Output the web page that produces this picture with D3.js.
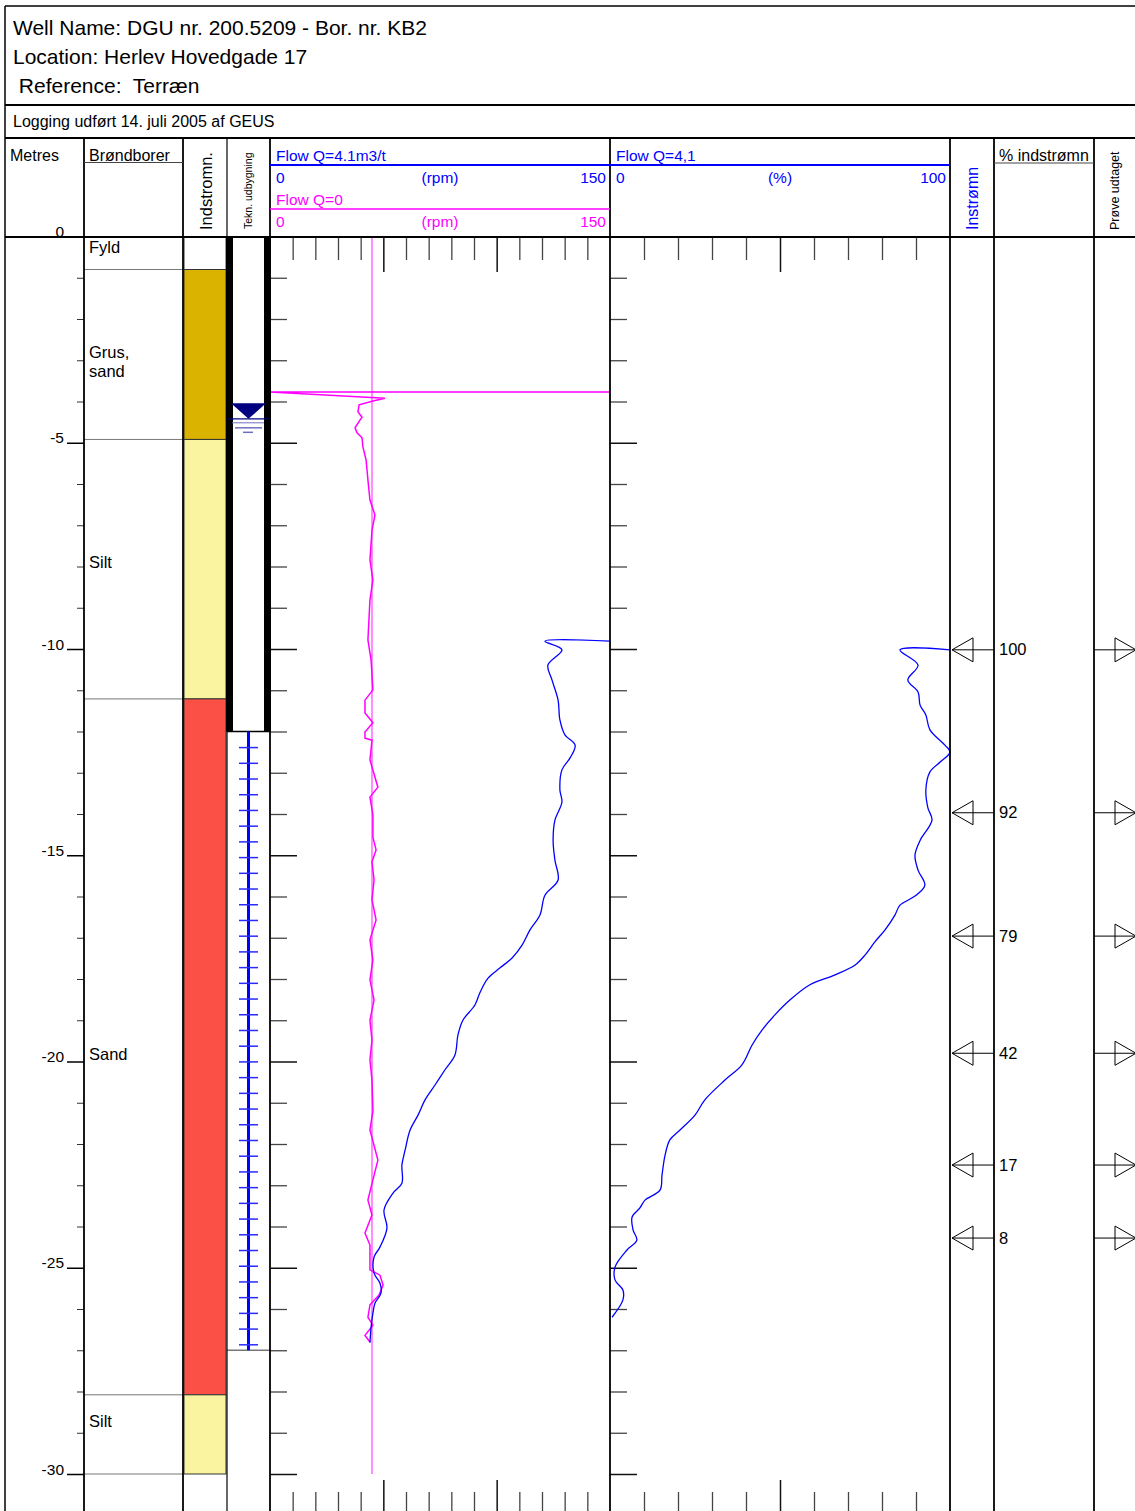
<!DOCTYPE html>
<html>
<head>
<meta charset="utf-8">
<script src="https://cdn.jsdelivr.net/npm/d3@7"></script>
<style>
  body { margin: 0; background: #fff; }
  svg { display: block; font-family: "Liberation Sans", Arial, sans-serif; }
</style>
</head>
<body>
<script>

const titleLines = ['Well Name: DGU nr. 200.5209 - Bor. nr. KB2', 'Location: Herlev Hovedgade 17', ' Reference:  Terræn'];
const loggingNote = 'Logging udført 14. juli 2005 af GEUS';

// lithology (depth in metres below terrain)
const lithNames = ['Fyld', 'Grus,\nsand', 'Silt', 'Sand', 'Silt'];
const lithCodes = ['fyld', 'grus', 'silt', 'sand', 'silt'];
const lithTop = [0, 0.8, 4.92, 11.21, 28.08];
const lithBottom = [0.8, 4.92, 11.21, 28.08, 30];
const lithLabelDepth = [0.4, 2.95, 8.04, 19.96, 28.86];
const lithColor = { fyld: '#ffffff', grus: '#d9b300', silt: '#faf3a0', sand: '#fa5046' };

// well construction
const casingTop = 0, casingBottom = 12.0;
const screenTop = 12.0, screenBottom = 27.0;
const waterLevel = 4.42;

// depth ticks
const depthMajor = [0, 5, 10, 15, 20, 25, 30];
const depthMinor = d3.range(0, 31).filter(d => d % 5 !== 0);
const rpmTicks = d3.range(0, 151, 10);
const pctTicks = d3.range(0, 101, 10);

// Flow Q=4.1m3/t  [depth, rpm]
const flowRpm = [[9.81,150],[9.81,121.3],[10.02,128.8],[10.39,122.6],[10.75,124.4],[11.24,127.1],[11.72,127.9],
  [12.08,130.1],[12.33,134.6],[12.64,132.4],[12.93,128.8],[13.42,127.9],[13.71,128.8],[14.15,125.7],[14.64,124.9],
  [15.12,125.7],[15.60,127.1],[15.97,121.3],[16.45,119.1],[16.81,114.7],[17.18,111.2],[17.49,106.8],[17.73,101.5],
  [17.98,96.2],[18.32,92.7],[18.63,90.4],[19.00,85.1],[19.36,82.9],[19.84,81.6],[20.20,77.2],[20.57,72.8],[20.93,68.4],
  [21.30,65.3],[21.66,61.8],[22.15,59.6],[22.51,58.2],[22.95,58.2],[23.19,54.3],[23.60,50.3],[24.04,51.6],[24.50,48.5],
  [24.74,45.9],[25.13,45.9],[25.37,48.5],[25.61,49.0],[25.86,46.3],[26.10,45.4],[26.44,44.6],[26.82,44.1]];

// Flow Q=0  [depth, rpm]
const flowZeroRpm = [[3.77,150],[3.77,0],[3.92,50.7],[3.99,45.4],[4.08,39.3],[4.25,38.8],[4.38,40.6],[4.45,39.7],
  [4.64,37.5],[4.76,38.4],[4.88,40.6],[5.10,41.0],[5.42,42.4],[5.90,43.2],[6.39,44.1],[6.75,46.3],[7.12,45.0],[7.84,44.1],
  [8.33,45.4],[8.81,44.1],[9.78,43.2],[10.27,44.6],[10.99,45.4],[11.24,41.9],[11.55,41.9],[11.79,45.4],[12.01,41.9],
  [12.16,41.9],[12.21,45.0],[12.69,44.1],[13.35,47.6],[13.59,44.1],[14.02,45.4],[14.56,45.4],[14.87,46.8],[15.16,45.0],
  [15.60,45.9],[16.08,45.0],[16.57,46.8],[17.05,44.1],[17.54,45.4],[18.02,44.1],[18.51,45.9],[19.00,44.1],[19.48,45.0],
  [19.96,44.1],[20.45,45.0],[21.20,45.4],[21.66,44.1],[22.39,47.6],[22.87,45.4],[23.36,43.2],[23.72,45.0],[24.16,41.9],
  [24.45,44.1],[25.05,44.1],[25.18,48.5],[25.42,49.9],[25.66,48.1],[25.90,44.1],[26.20,43.2],[26.39,45.4],[26.64,41.9],
  [26.80,44.1]];
const flowZeroRef = [[0,45],[30,45]];

// Flow Q=4,1  [depth, %]
const flowPct = [[10.02,100],[10.02,85.3],[10.39,90.6],[10.75,87.6],[11.04,90.6],[11.36,91.2],[11.60,92.9],[11.96,94.1],
  [12.33,98.5],[12.50,100],[12.74,97.1],[12.98,94.1],[13.42,92.9],[13.85,93.5],[14.15,94.7],[14.64,91.2],[15.00,89.7],
  [15.36,90.6],[15.73,92.6],[15.99,89.7],[16.21,85.3],[16.45,83.8],[16.81,80.9],[17.10,77.9],[17.42,75.0],[17.66,72.1],
  [17.90,66.2],[18.14,58.8],[18.51,52.9],[18.87,48.5],[19.24,44.7],[19.60,41.8],[20.08,38.8],[20.45,33.8],[20.93,27.9],
  [21.30,25.0],[21.66,20.6],[21.90,17.6],[22.27,16.2],[22.75,15.3],[23.12,14.7],[23.36,10.3],[23.55,8.8],[23.77,6.5],
  [24.09,6.8],[24.33,7.9],[24.57,5.0],[24.98,1.5],[25.30,1.5],[25.54,3.8],[25.78,3.8],[26.20,0.6]];

// inflow points and samples
const inflowDepth = [10.02, 13.97, 16.96, 19.8, 22.51, 24.28];
const inflowPct = ['100', '92', '79', '42', '17', '8'];


// --- layout ---
const W = 1135, H = 1511;
const svg = d3.select('body').append('svg').attr('width', W).attr('height', H);

// column edges
const xLeft = 5, xMetres = 84, xBrond = 183, xIndst = 227, xTekn = 270, xFlow1 = 610, xFlow2 = 950,
  xInstr = 994, xPct = 1094, xRight = 1135;
const yTop = 6, yTitle = 105, yLog = 138, yHead = 237;

const y = d3.scaleLinear().domain([0, 30]).range([236.5, 1474]);
const xRpm = d3.scaleLinear().domain([0, 150]).range([xTekn, xFlow1]);
const xPc = d3.scaleLinear().domain([0, 100]).range([xFlow1, xFlow2]);

const FONT = '"Liberation Sans", Arial, sans-serif';

function hline(x1, x2, yy, w, c) {
    svg.append('line').attr('x1', x1).attr('x2', x2).attr('y1', yy).attr('y2', yy)
        .attr('stroke', c || '#000').attr('stroke-width', w || 1);
}
function vline(xx, y1, y2, w, c) {
    svg.append('line').attr('x1', xx).attr('x2', xx).attr('y1', y1).attr('y2', y2)
        .attr('stroke', c || '#000').attr('stroke-width', w || 1);
}
function label(txt, x, yy, size, opts) {
    opts = opts || {};
    return svg.append('text').attr('x', x).attr('y', yy)
        .attr('font-size', size).attr('fill', opts.fill || '#000')
        .attr('text-anchor', opts.anchor || 'start')
        .style('white-space', 'pre')
        .text(txt);
}
function vlabel(txt, x, yy, size, fill) {
    svg.append('text').attr('transform', `translate(${x},${yy}) rotate(-90)`)
        .attr('font-size', size).attr('fill', fill || '#000').text(txt);
}

// --- lithology fill in Indstromn. column ---
const lith = lithNames.map((n, i) => ({ name: n, code: lithCodes[i], top: lithTop[i], bot: lithBottom[i], lab: lithLabelDepth[i] }));

svg.selectAll('rect.lith').data(lith).enter().append('rect')
    .attr('class', 'lith')
    .attr('x', xBrond + 1).attr('width', xIndst - xBrond - 2)
    .attr('y', d => y(d.top)).attr('height', d => y(d.bot) - y(d.top))
    .attr('fill', d => lithColor[d.code])
    .attr('stroke', '#333').attr('stroke-width', 1);

// boundaries in Brøndborer column
lith.forEach(d => hline(xMetres, xBrond, y(d.bot), 1, '#777'));

// lithology names
lith.forEach(d => {
    d.name.split('\n').forEach((t, k) => label(t, 89, y(d.lab) + k * 19, 16.5));
});

// --- well construction ---
svg.append('rect').attr('x', 226).attr('width', 7).attr('y', y(casingTop)).attr('height', y(casingBottom) - y(casingTop)).attr('fill', '#000');
svg.append('rect').attr('x', 264).attr('width', 7).attr('y', y(casingTop)).attr('height', y(casingBottom) - y(casingTop)).attr('fill', '#000');
hline(xIndst, xTekn, y(casingBottom), 1.5, '#000');
hline(xIndst, xTekn, y(screenBottom), 1.5, '#777');

// screen
const xPipe = 248.5;
vline(xPipe, y(screenTop), y(screenBottom), 3, '#0000ff');
svg.selectAll('line.slot').data(d3.range(screenTop + 0.39, screenBottom - 0.05, 0.381)).enter().append('line')
    .attr('class', 'slot')
    .attr('x1', 239).attr('x2', 258).attr('y1', d => y(d)).attr('y2', d => y(d))
    .attr('stroke', '#2a2aff').attr('stroke-width', 1.5);

// water level
const wl = y(waterLevel);
svg.append('path').attr('d', `M231,${wl - 15.5}L266,${wl - 15.5}L248.5,${wl}Z`).attr('fill', '#000080');
hline(228, 269, wl, 1.3, '#000080');
hline(232, 264, wl + 4, 1, '#7070c0');
hline(235, 262, wl + 9, 1.5, '#7070c0');
hline(243, 253, wl + 13.5, 1.5, '#7070c0');

// --- depth axis in Metres column ---
function styleAxis(g, color) {
    g.attr('font-family', FONT).attr('color', color || '#000');
    g.select('.domain').remove();
}
svg.append('g').attr('transform', `translate(${xMetres},0)`)
    .call(d3.axisLeft(y).tickValues(depthMajor).tickSize(17).tickPadding(3).tickFormat(d => d === 0 ? '0' : '-' + d))
    .call(g => styleAxis(g))
    .call(g => g.attr('font-size', 15.5))
    .call(g => g.selectAll('text').attr('dy', 0))
    .call(g => g.selectAll('line').attr('stroke-width', 1.5));
svg.append('g').attr('transform', `translate(${xMetres},0)`)
    .call(d3.axisLeft(y).tickValues(depthMinor).tickSize(7).tickFormat(''))
    .call(g => styleAxis(g, '#333'));

// depth ticks on track edges
[xTekn, xFlow1].forEach(xx => {
    svg.append('g').attr('transform', `translate(${xx},0)`)
        .call(d3.axisRight(y).tickValues(depthMajor).tickSize(27).tickFormat(''))
        .call(g => styleAxis(g, '#111'))
        .call(g => g.selectAll('line').attr('stroke-width', 1.5));
    svg.append('g').attr('transform', `translate(${xx},0)`)
        .call(d3.axisRight(y).tickValues(depthMinor).tickSize(17).tickFormat(''))
        .call(g => styleAxis(g, '#444'))
        .call(g => g.selectAll('line').attr('stroke-width', 1.3));
});

// scale ticks at top and bottom of the two flow tracks
function trackTicks(scale, ticks, majors) {
    const minor = ticks.filter(t => !majors.includes(t));
    svg.append('g').attr('transform', `translate(0,${yHead})`)
        .call(d3.axisBottom(scale).tickValues(minor).tickSize(23).tickFormat(''))
        .call(g => styleAxis(g, '#444')).call(g => g.selectAll('line').attr('stroke-width', 1.3));
    svg.append('g').attr('transform', `translate(0,${yHead})`)
        .call(d3.axisBottom(scale).tickValues(majors).tickSize(35).tickFormat(''))
        .call(g => styleAxis(g, '#111')).call(g => g.selectAll('line').attr('stroke-width', 1.5));
    svg.append('g').attr('transform', `translate(0,${H})`)
        .call(d3.axisTop(scale).tickValues(minor).tickSize(19).tickFormat(''))
        .call(g => styleAxis(g, '#444')).call(g => g.selectAll('line').attr('stroke-width', 1.3));
    svg.append('g').attr('transform', `translate(0,${H})`)
        .call(d3.axisTop(scale).tickValues(majors).tickSize(31).tickFormat(''))
        .call(g => styleAxis(g, '#111')).call(g => g.selectAll('line').attr('stroke-width', 1.5));
}
trackTicks(xRpm, rpmTicks.filter(t => t > 0 && t < 150), [50, 100]);
trackTicks(xPc, pctTicks.filter(t => t > 0 && t < 100), [50]);

// --- curves ---
const lineRpm = d3.line().x(d => xRpm(d[1])).y(d => y(d[0]));
const lineRpmSmooth = d3.line().x(d => xRpm(d[1])).y(d => y(d[0])).curve(d3.curveCatmullRom.alpha(0.5));
const linePctSmooth = d3.line().x(d => xPc(d[1])).y(d => y(d[0])).curve(d3.curveCatmullRom.alpha(0.5));

svg.append('path').attr('d', lineRpm(flowZeroRef)).attr('fill', 'none').attr('stroke', '#ff44ff').attr('stroke-width', 1.2);
svg.append('path').attr('d', lineRpm(flowZeroRpm)).attr('fill', 'none').attr('stroke', '#ff00ff').attr('stroke-width', 1.5);
svg.append('path').attr('d', lineRpmSmooth(flowRpm)).attr('fill', 'none').attr('stroke', '#0000ff').attr('stroke-width', 1.3);
svg.append('path').attr('d', linePctSmooth(flowPct)).attr('fill', 'none').attr('stroke', '#0000ff').attr('stroke-width', 1.3);

// --- inflow arrows, % labels and sample arrows ---
inflowDepth.forEach((d, i) => {
    const yy = y(d);
    hline(952, xInstr, yy, 1, '#000');
    svg.append('path').attr('d', `M973,${yy - 12}L952,${yy}L973,${yy + 12}Z`).attr('fill', 'none').attr('stroke', '#000').attr('stroke-width', 1);
    label(inflowPct[i], 999, yy + 5.5, 16.5);
    hline(xPct, 1136, yy, 1, '#000');
    svg.append('path').attr('d', `M1115,${yy - 12}L1136,${yy}L1115,${yy + 12}Z`).attr('fill', 'none').attr('stroke', '#000').attr('stroke-width', 1);
});

// --- frame and header ---
hline(xLeft, xRight, yTop, 1.5);
hline(xLeft, xRight, yTitle, 2);
hline(xLeft, xRight, yLog, 2);
hline(xLeft, xRight, yHead, 2);
vline(xLeft, yTop, H, 1.5);
[xMetres, xBrond, xTekn, xFlow1, xFlow2, xInstr, xPct].forEach(xx => vline(xx, yLog, H, 1.8));
vline(xIndst, yLog, H, 1.2);

label(titleLines[0], 13, 35, 21);
label(titleLines[1], 13, 64, 21);
label(titleLines[2], 13, 93, 21);
label(loggingNote, 13, 127, 16);

label('Metres', 10, 161, 16);
label('Brøndborer', 89, 161, 16);
hline(xMetres, xBrond, 162.5, 1, '#444');
vlabel('Indstromn.', 212, 230, 16.5);
vlabel('Tekn. udbygning', 251.5, 229, 10.5);

label('Flow Q=4.1m3/t', 276, 161, 15.5, { fill: '#0000ff' });
hline(xTekn, xFlow1, 165, 2, '#0000ff');
label('0', 276, 183, 15.5, { fill: '#0000ff' });
label('(rpm)', (xTekn + xFlow1) / 2, 183, 15.5, { fill: '#0000ff', anchor: 'middle' });
label('150', 606, 183, 15.5, { fill: '#0000ff', anchor: 'end' });
label('Flow Q=0', 276, 204.5, 15.5, { fill: '#ff00ff' });
hline(xTekn, xFlow1, 209, 1.5, '#ff00ff');
label('0', 276, 226.5, 15.5, { fill: '#ff00ff' });
label('(rpm)', (xTekn + xFlow1) / 2, 226.5, 15.5, { fill: '#ff00ff', anchor: 'middle' });
label('150', 606, 226.5, 15.5, { fill: '#ff00ff', anchor: 'end' });

label('Flow Q=4,1', 616, 161, 15.5, { fill: '#0000ff' });
hline(xFlow1, xFlow2, 165, 2, '#0000ff');
label('0', 616, 183, 15.5, { fill: '#0000ff' });
label('(%)', (xFlow1 + xFlow2) / 2, 183, 15.5, { fill: '#0000ff', anchor: 'middle' });
label('100', 946, 183, 15.5, { fill: '#0000ff', anchor: 'end' });

vlabel('Instrømn', 978, 230, 16, '#0000ff');
label('% indstrømn', 999, 161, 16);
hline(xInstr, xPct, 163, 1, '#444');
vlabel('Prøve udtaget', 1118.5, 230, 12.5);
</script>
</body>
</html>
